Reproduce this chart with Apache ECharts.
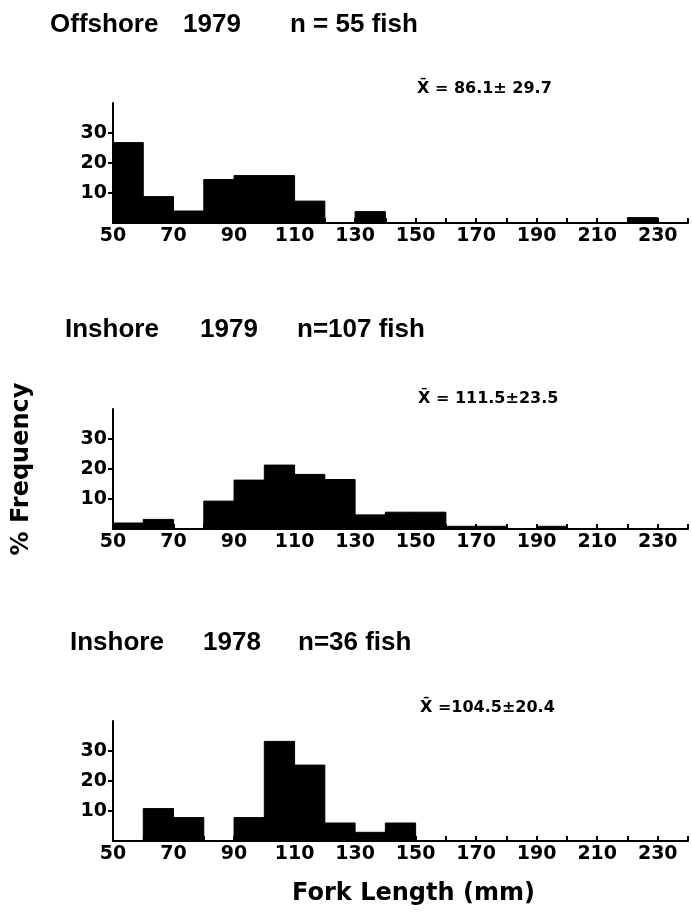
<!DOCTYPE html>
<html>
<head>
<meta charset="utf-8">
<script src="https://cdn.jsdelivr.net/npm/echarts@6/dist/echarts.min.js"></script>
<style>
  html, body { margin: 0; padding: 0; background: #fff; }
  #main { width: 692px; height: 913px; }
</style>
</head>
<body>
<div id="main"></div>
<script>
// fork length bins (mm), 10 mm wide
var binStarts = [50, 60, 70, 80, 90, 100, 110, 120, 130, 140, 150, 160, 170, 180, 190, 200, 210, 220, 230];
var binWidth = 10;

// % frequency per bin
var offshore1979 = [26.8, 8.8, 4.0, 14.5, 15.8, 15.8, 7.3, 0, 3.8, 0, 0, 0, 0, 0, 0, 0, 0, 1.8, 0];
var inshore1979 = [2.0, 3.2, 0, 9.3, 16.3, 21.3, 18.2, 16.5, 4.7, 5.6, 5.6, 0.9, 0.9, 0, 0.9, 0, 0, 0, 0];
var inshore1978 = [0, 10.8, 7.8, 0, 7.8, 33.2, 25.3, 6.0, 2.9, 6.0, 0, 0, 0, 0, 0, 0, 0, 0, 0];

var panelSites = ['Offshore', 'Inshore', 'Inshore'];
var panelYears = ['1979', '1979', '1978'];
var panelCounts = ['n = 55 fish', 'n=107 fish', 'n=36 fish'];
var meanLabels = ['X\u0304 = 86.1\u00b1 29.7', 'X\u0304 = 111.5\u00b123.5', 'X\u0304 =104.5\u00b120.4'];

var xLabelValues = [50, 70, 90, 110, 130, 150, 170, 190, 210, 230];
var yLabelValues = [10, 20, 30];

var titleFont = 'Liberation Sans';
var font = 'DejaVu Sans';

var toData = function (vals) {
    var out = [];
    for (var i = 0; i < binStarts.length; i++) {
        if (vals[i] > 0) out.push([binStarts[i], vals[i]]);
    }
    return out;
};

var renderBin = function (params, api) {
    var x0 = api.value(0);
    var topLeft = api.coord([x0, api.value(1)]);
    var bottomRight = api.coord([x0 + binWidth, 0]);
    return {
        type: 'rect',
        shape: {
            x: topLeft[0],
            y: topLeft[1],
            width: bottomRight[0] - topLeft[0],
            height: bottomRight[1] - topLeft[1]
        },
        style: { fill: '#000', stroke: '#000', lineWidth: 1 }
    };
};

var gridTops = [103, 409, 721];
var allData = [offshore1979, inshore1979, inshore1978];

// where each part of the panel title sits
var titleTops = [12, 317, 630];
var siteLeft = [50, 65, 70];
var yearLeft = [183, 200, 203];
var countLeft = [290, 297, 298];
var meanTops = [81, 391, 700];
var meanLeft = [417, 418, 420];

var grids = [], xAxes = [], yAxes = [], series = [], titles = [];
for (var k = 0; k < 3; k++) {
    grids.push({ left: 113, right: 4, top: gridTops[k], height: 120 });
    xAxes.push({
        type: 'value',
        gridIndex: k,
        min: 50,
        max: 240,
        interval: 10,
        splitLine: { show: false },
        axisLine: { lineStyle: { color: '#000', width: 2 } },
        axisTick: { inside: true, length: 5, lineStyle: { color: '#000', width: 2 } },
        axisLabel: {
            customValues: xLabelValues,
            color: '#000',
            fontFamily: font,
            fontWeight: 'bold',
            fontSize: 19,
            margin: 4
        },
        name: k == 2 ? 'Fork Length (mm)' : '',
        nameLocation: 'middle',
        nameGap: 41,
        nameTextStyle: { color: '#000', fontFamily: font, fontWeight: 'bold', fontSize: 24, padding: [0, 0, 0, 26] }
    });
    yAxes.push({
        type: 'value',
        gridIndex: k,
        min: 0,
        max: 40,
        splitLine: { show: false },
        axisLine: { show: true, lineStyle: { color: '#000', width: 2 } },
        axisTick: { show: true, customValues: yLabelValues, length: 5, lineStyle: { color: '#000', width: 2 } },
        axisLabel: {
            customValues: yLabelValues,
            color: '#000',
            fontFamily: font,
            fontWeight: 'bold',
            fontSize: 19,
            margin: 6
        },
        name: k == 1 ? '% Frequency' : '',
        nameLocation: 'middle',
        nameRotate: 90,
        nameGap: 79,
        nameTextStyle: { color: '#000', fontFamily: font, fontWeight: 'bold', fontSize: 24 }
    });
    series.push({
        type: 'custom',
        xAxisIndex: k,
        yAxisIndex: k,
        renderItem: renderBin,
        encode: { x: 0, y: 1 },
        data: toData(allData[k])
    });

    var tStyle = { color: '#000', fontFamily: titleFont, fontSize: 26, fontWeight: 'bold' };
    titles.push({ text: panelSites[k], left: siteLeft[k], top: titleTops[k], padding: 0, textStyle: tStyle });
    titles.push({ text: panelYears[k], left: yearLeft[k], top: titleTops[k], padding: 0, textStyle: tStyle });
    titles.push({ text: panelCounts[k], left: countLeft[k], top: titleTops[k], padding: 0, textStyle: tStyle });
    titles.push({
        text: meanLabels[k], left: meanLeft[k], top: meanTops[k], padding: 0,
        textStyle: { color: '#000', fontFamily: font, fontSize: 16, fontWeight: 'bold' }
    });
}

var myChart = echarts.init(document.getElementById('main'));
var option = {
    backgroundColor: '#fff',
    animation: false,
    title: titles,
    grid: grids,
    xAxis: xAxes,
    yAxis: yAxes,
    series: series
};
myChart.setOption(option);
</script>
</body>
</html>
